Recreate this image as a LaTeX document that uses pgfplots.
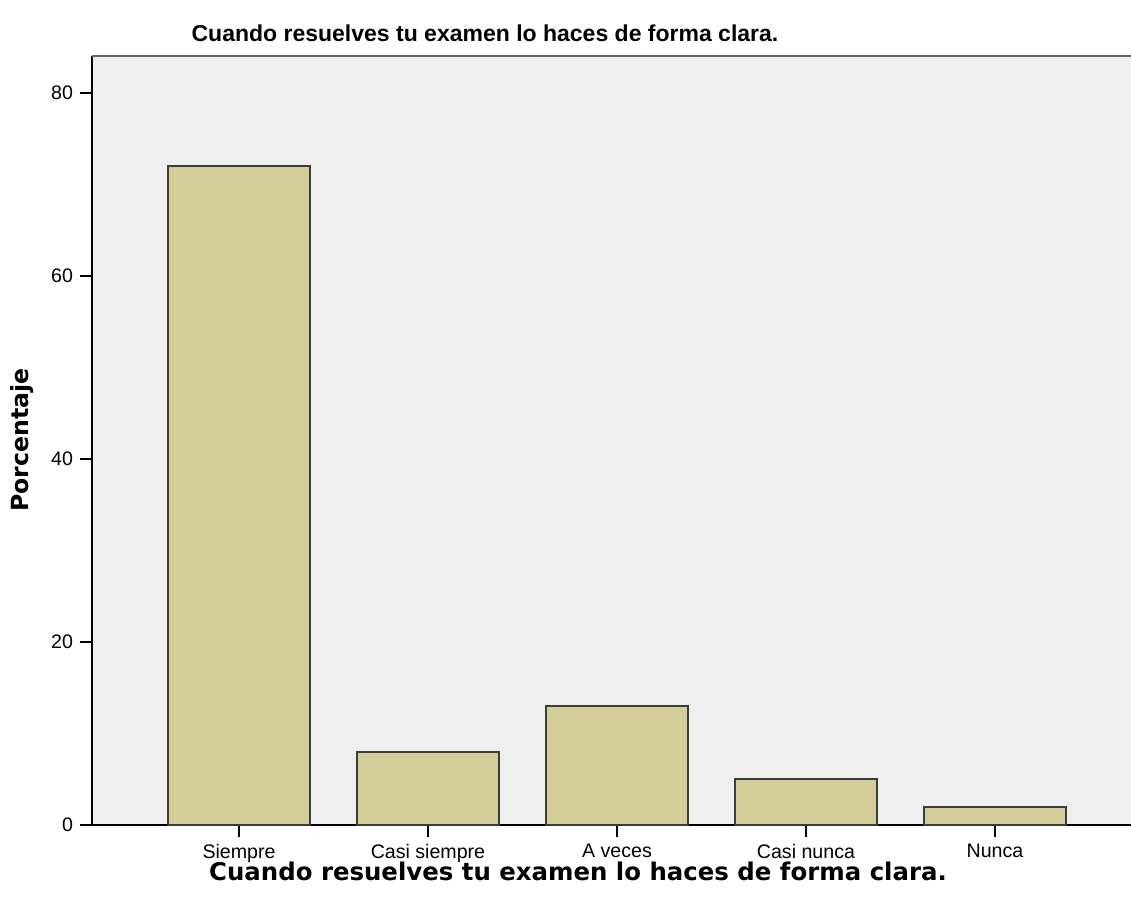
\documentclass[border=0pt]{standalone}
\usepackage{pgfplots}
\pgfplotsset{compat=1.18}
\usepackage{fontspec}
\setmainfont{Liberation Sans}
\newfontfamily\labelfont{DejaVu Sans}
\definecolor{panel}{RGB}{239,239,239}
\definecolor{barfill}{RGB}{211,206,151}
\definecolor{baredge}{RGB}{60,60,60}
\begin{document}
\begin{tikzpicture}
\useasboundingbox (-46pt,-41pt) rectangle (519.5pt,412.5pt);
\begin{axis}[
  at={(0,0)}, anchor=south west,
  scale only axis,
  width=519.5pt, height=384.5pt,
  xmin=-0.778, xmax=4.72,
  ymin=0, ymax=84,
  axis x line*=bottom,
  axis y line*=left,
  axis line style={black, line width=0.9pt, -},
  axis background/.style={fill=panel},
  xtick={0,1,2,3,4},
  xticklabels={Siempre, Casi siempre, A veces, Casi nunca, Nunca},
  ytick={0,20,40,60,80},
  tick align=outside,
  major tick length=6pt,
  tick style={black, line width=0.9pt},
  ticklabel style={font=\fontsize{9.8}{11}\selectfont},
  /pgf/number format/assume math mode=true,
  ybar,
  bar width=0.751,
  clip=false,
]
\addplot[fill=barfill, draw=baredge, line width=0.9pt] coordinates {
  (0,72) (1,8) (2,13) (3,5) (4,2)
};
\draw[gray!80!black, line width=1.2pt] (rel axis cs:0,1) -- (rel axis cs:1,1);
\end{axis}
\node[font=\bfseries\fontsize{11.5}{13}\selectfont] at (196.5pt,396pt) {Cuando resuelves tu examen lo haces de forma clara.};
\node[font=\labelfont\bfseries\fontsize{12.2}{14}\selectfont] at (243pt,-23pt) {Cuando resuelves tu examen lo haces de forma clara.};
\node[rotate=90, font=\labelfont\bfseries\fontsize{11.8}{13}\selectfont] at (-35pt,192.5pt) {Porcentaje};
\end{tikzpicture}
\end{document}
